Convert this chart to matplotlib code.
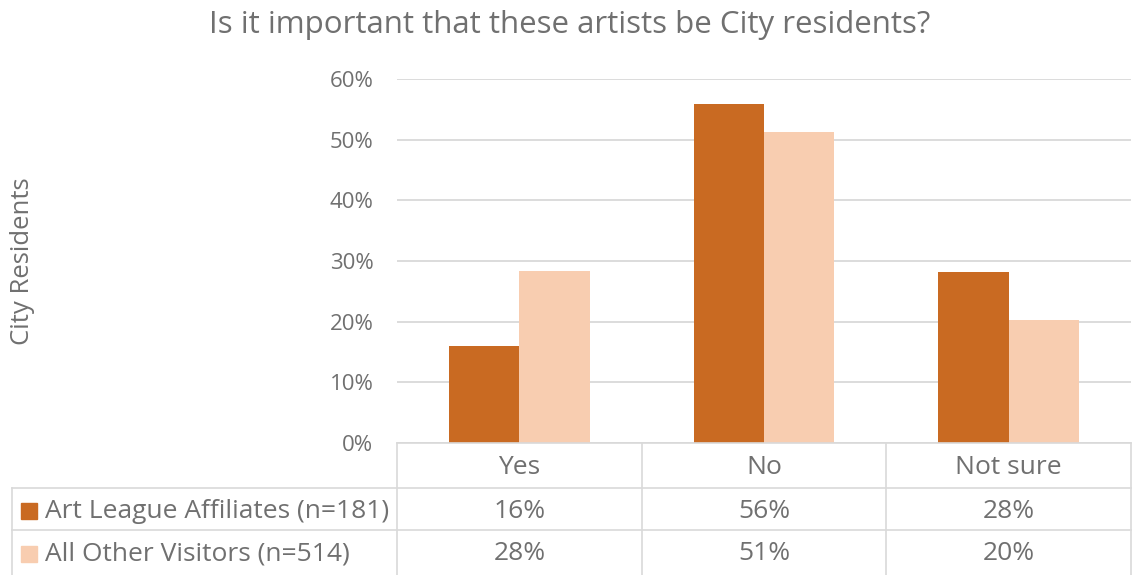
import matplotlib
matplotlib.use("Agg")
import matplotlib.pyplot as plt
import matplotlib.transforms as mtransforms
from matplotlib.patches import Rectangle
from matplotlib.lines import Line2D

categories = ["Yes", "No", "Not sure"]
series_names = ["Art League Affiliates (n=181)", "All Other Visitors (n=514)"]
art_league = [0.160, 0.558, 0.282]
other_visitors = [0.283, 0.512, 0.203]
yticks = [0, 0.1, 0.2, 0.3, 0.4, 0.5, 0.6]
title = "Is it important that these artists be City residents?"
ylabel = "City Residents"

colors = ["#C96A22", "#F8CDB0"]
text_color = "#707070"
grid_color = "#D9D9D9"

plt.rcParams['font.family'] = ['Open Sans', 'DejaVu Sans']

W, H = 1134, 575
fig = plt.figure(figsize=(W / 100, H / 100), dpi=100)

def fx(px):
    return px / W

def fy(py):
    return 1 - py / H

ax_left, ax_right, ax_top, ax_bottom = 397, 1131, 79, 443
ax = fig.add_axes([fx(ax_left), fy(ax_bottom), fx(ax_right - ax_left), fy(ax_top) - fy(ax_bottom)])

x = list(range(len(categories)))
w = 0.288
ax.bar([i - w / 2 for i in x], art_league, width=w, color=colors[0], zorder=3)
ax.bar([i + w / 2 for i in x], other_visitors, width=w, color=colors[1], zorder=3)

ax.set_xlim(-0.5, len(categories) - 0.5)
ax.set_ylim(0, 0.6)
ax.set_yticks(yticks)
ax.set_yticklabels([f"{int(round(v * 100))}%" for v in yticks], fontsize=16, color=text_color)
ax.set_xticks([])
ax.tick_params(axis='y', length=0, pad=17)
ax.grid(axis='y', color=grid_color, linewidth=1.3, zorder=0)
for s in ax.spines.values():
    s.set_visible(False)

fig.text(fx(570), fy(25), title, ha='center', va='center', fontsize=22.5, color=text_color)
fig.text(fx(23), fy(261), ylabel, rotation=90, ha='center', va='center', fontsize=18.5, color=text_color)

# data table beneath the axes
blend = mtransforms.blended_transform_factory(ax.transData, fig.transFigure)
row_lines = [443, 488, 530]
left_border = 12
line_kw = dict(color=grid_color, linewidth=1.2, transform=fig.transFigure)
fig.add_artist(Line2D([fx(ax_left), fx(ax_right)], [fy(443), fy(443)], **line_kw))
for ry in row_lines[1:]:
    fig.add_artist(Line2D([fx(left_border), fx(ax_right)], [fy(ry), fy(ry)], **line_kw))
fig.add_artist(Line2D([fx(left_border), fx(left_border)], [fy(488), 0], **line_kw))
for b in [-0.5, 0.5, 1.5, 2.5]:
    xb = ax.transData.transform((b, 0))[0] / W
    fig.add_artist(Line2D([xb, xb], [fy(443), 0], **line_kw))

row_centers = [467, 511, 554]
for i, c in enumerate(categories):
    fig.text(i, fy(row_centers[0]), c, transform=blend, ha='center', va='center', fontsize=19, color=text_color)
    fig.text(i, fy(row_centers[1]), f"{round(art_league[i] * 100):.0f}%", transform=blend,
             ha='center', va='center', fontsize=19, color=text_color)
    fig.text(i, fy(row_centers[2]), f"{round(other_visitors[i] * 100):.0f}%", transform=blend,
             ha='center', va='center', fontsize=19, color=text_color)

for k, name in enumerate(series_names):
    cy = row_centers[k + 1]
    fig.add_artist(Rectangle((fx(21), fy(cy + 8)), fx(16), fy(cy - 8) - fy(cy + 8),
                             transform=fig.transFigure, color=colors[k]))
    fig.text(fx(45), fy(cy), name, ha='left', va='center', fontsize=19, color=text_color)

fig.savefig("out.png", dpi=100)
